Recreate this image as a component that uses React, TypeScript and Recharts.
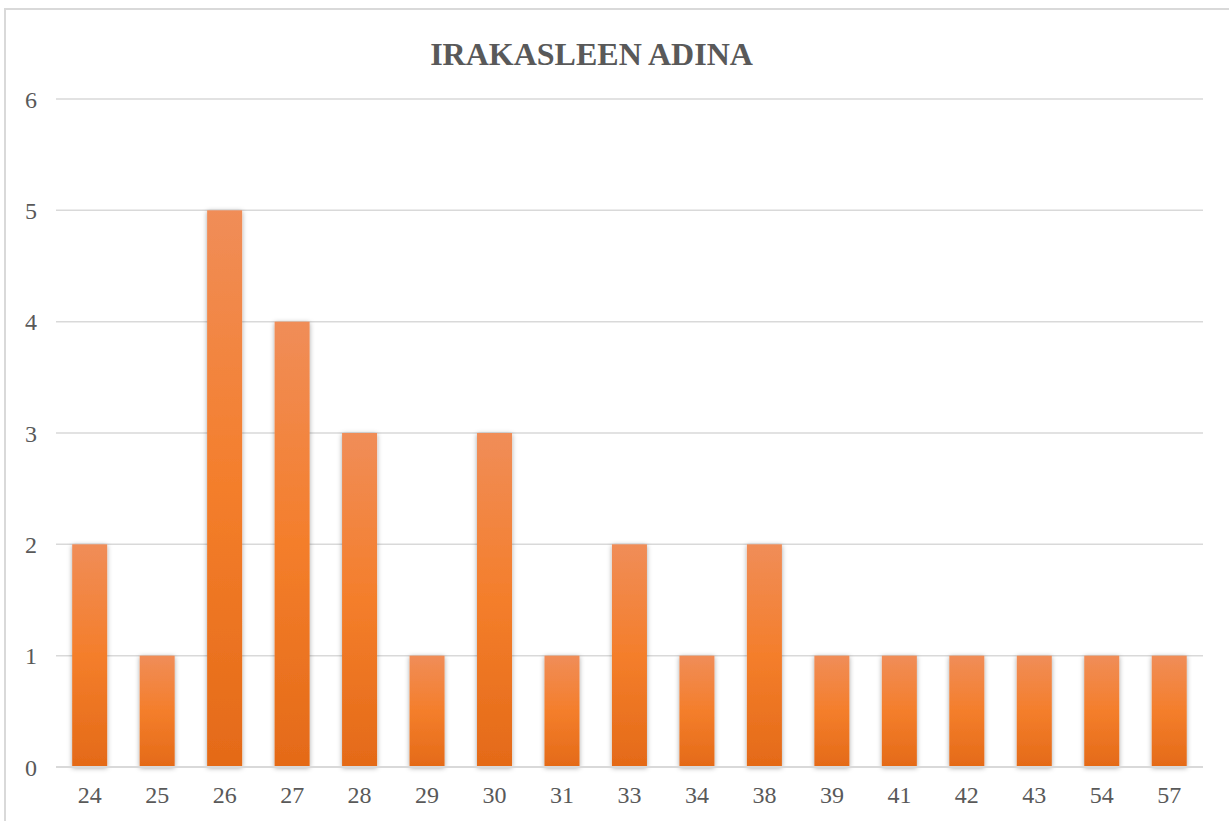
import React from "react";
import { BarChart, Bar, XAxis, YAxis, CartesianGrid } from "recharts";

const ages = ["24", "25", "26", "27", "28", "29", "30", "31", "33", "34", "38", "39", "41", "42", "43", "54", "57"];
const counts = [2, 1, 5, 4, 3, 1, 3, 1, 2, 1, 2, 1, 1, 1, 1, 1, 1];
const yTicks = [0, 1, 2, 3, 4, 5, 6];
const title = "IRAKASLEEN ADINA";

const data = ages.map((a, i) => ({ age: a, count: counts[i] }));

const FONT = '"Liberation Serif", "Times New Roman", serif';
const TEXT = "#595959";

const BarShape = (props: any) => {
  const { x, y, width, height } = props;
  if (!height || height <= 0) return null;
  return (
    <rect x={x} y={y} width={width} height={height} fill="url(#barGrad)" filter="url(#barShadow)" />
  );
};

export default function App() {
  return (
    <div style={{ position: "fixed", left: 0, top: 0, width: 1229, height: 821, overflow: "hidden", background: "#fff" }}>
      <div
        style={{
          position: "absolute",
          left: 4,
          top: 8,
          width: 1300,
          height: 900,
          border: "2px solid #d9d9d9",
          boxSizing: "border-box",
        }}
      />
      <div
        style={{
          position: "absolute",
          left: 0,
          top: 36,
          width: 1183,
          textAlign: "center",
          fontFamily: FONT,
          fontWeight: "bold",
          fontSize: 32,
          color: TEXT,
          whiteSpace: "nowrap",
        }}
      >
        {title}
      </div>
      <div style={{ position: "absolute", left: 0, top: 0 }}>
        <BarChart width={1229} height={821} data={data} margin={{ top: 99, right: 26, bottom: 0, left: 0 }} barCategoryGap="24%">
          <defs>
            <linearGradient id="barGrad" x1="0" y1="0" x2="0" y2="1">
              <stop offset="0%" stopColor="#F08D58" />
              <stop offset="50%" stopColor="#F47E2B" />
              <stop offset="100%" stopColor="#E46A18" />
            </linearGradient>
            <filter id="barShadow" x="-30%" y="-10%" width="160%" height="130%">
              <feDropShadow dx="0" dy="1" stdDeviation="2.5" floodColor="#000" floodOpacity="0.35" />
            </filter>
          </defs>
          <CartesianGrid vertical={false} stroke="#d9d9d9" strokeWidth={1.5} />
          <XAxis
            dataKey="age"
            height={54}
            tickLine={false}
            axisLine={{ stroke: "#d9d9d9", strokeWidth: 2 }}
            tickSize={0}
            tickMargin={19}
            tick={{ fill: TEXT, fontFamily: FONT, fontSize: 24 }}
            interval={0}
          />
          <YAxis
            width={56}
            domain={[0, 6]}
            ticks={yTicks}
            tickLine={false}
            axisLine={false}
            tickSize={0}
            tickMargin={19}
            tick={{ fill: TEXT, fontFamily: FONT, fontSize: 24 }}
            interval={0}
          />
          <Bar dataKey="count" isAnimationActive={false} shape={BarShape} />
        </BarChart>
      </div>
    </div>
  );
}
